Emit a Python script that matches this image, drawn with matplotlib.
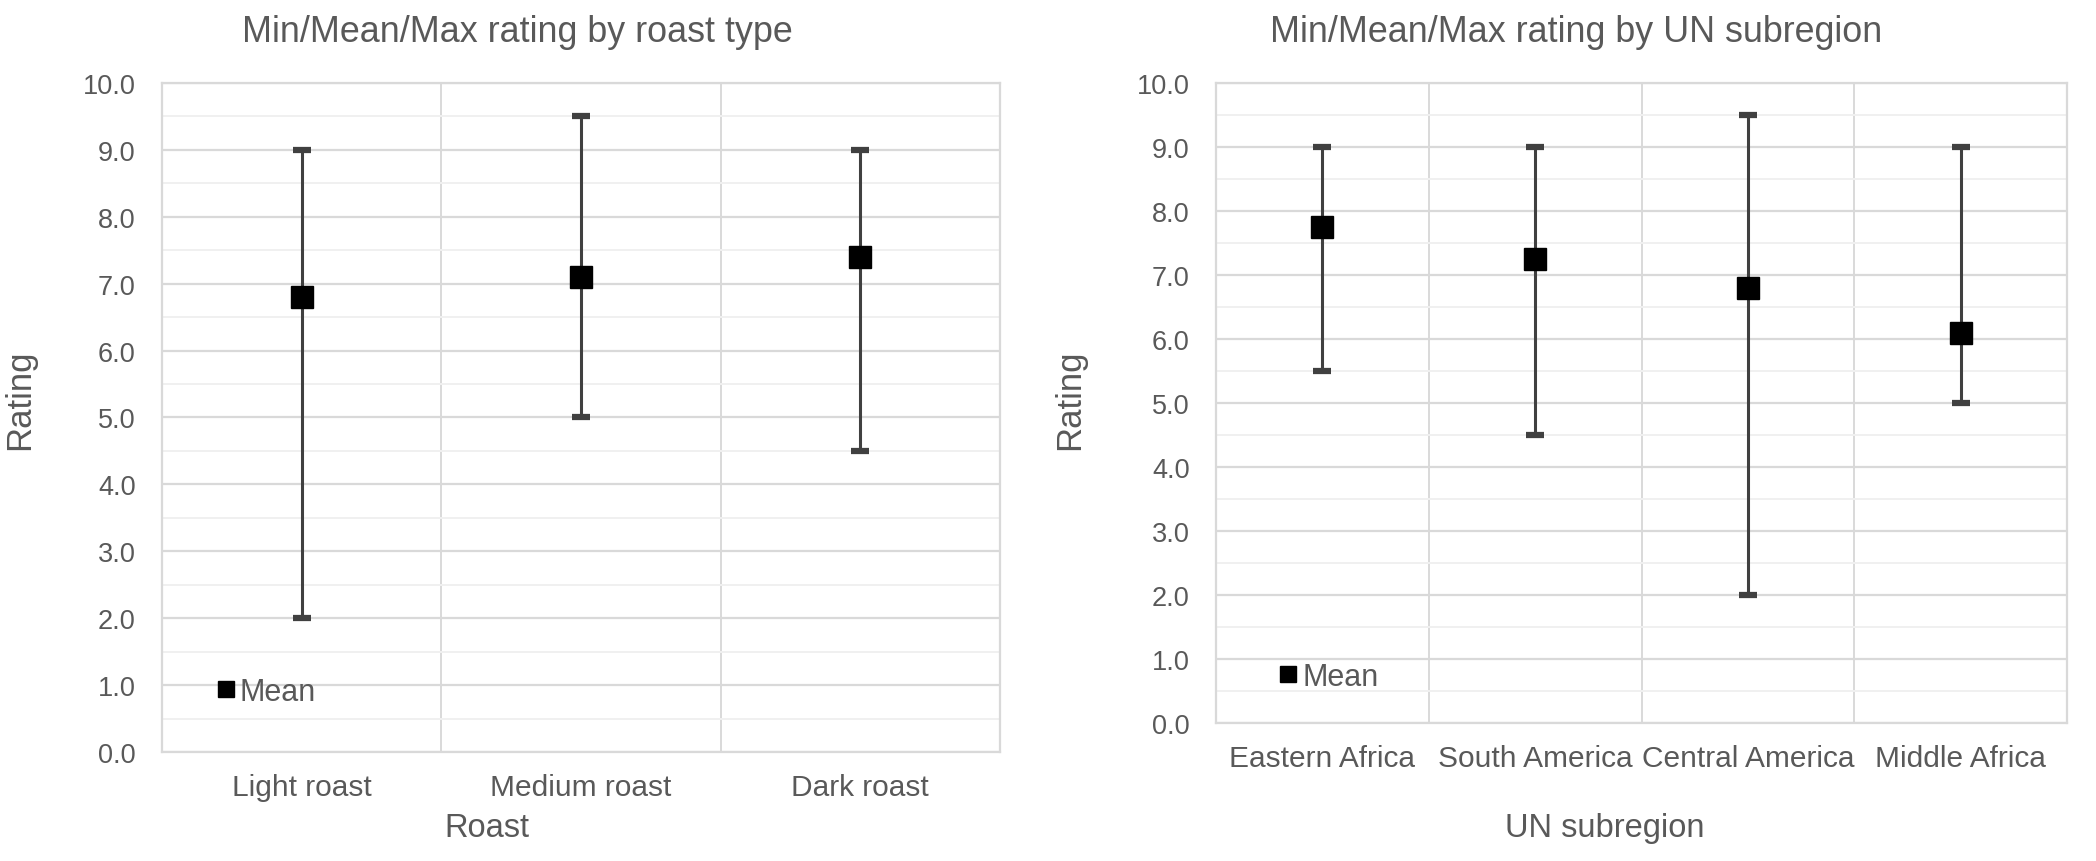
import matplotlib
matplotlib.use("Agg")
import matplotlib.pyplot as plt
from matplotlib.ticker import MultipleLocator, FixedLocator

plt.rcParams["font.family"] = ["Liberation Sans", "DejaVu Sans"]

# data
roast_types = ["Light roast", "Medium roast", "Dark roast"]
roast_min = [2.0, 5.0, 4.5]
roast_mean = [6.8, 7.1, 7.4]
roast_max = [9.0, 9.5, 9.0]

regions = ["Eastern Africa", "South America", "Central America", "Middle Africa"]
region_min = [5.5, 4.5, 2.0, 5.0]
region_mean = [7.75, 7.25, 6.8, 6.1]
region_max = [9.0, 9.0, 9.5, 9.0]

TEXT = "#595959"
GRID = "#d9d9d9"
MINOR = "#f0f0f0"


def draw_panel(ax, cats, lo, mid, hi, legend_xy):
    n = len(cats)
    x = list(range(n))
    err_lo = [m - l for m, l in zip(mid, lo)]
    err_hi = [h - m for m, h in zip(mid, hi)]
    _, caps, bars = ax.errorbar(x, mid, yerr=[err_lo, err_hi], fmt="none",
                                ecolor="#404040", elinewidth=2.2, capsize=6.5,
                                capthick=4.5, zorder=3)
    for c in caps:
        c.set_color("black")
    ax.plot(x, mid, linestyle="none", marker="s", markersize=16,
            color="black", label="Mean", zorder=4)

    ax.set_xlim(-0.5, n - 0.5)
    ax.set_ylim(0, 10)
    ax.set_xticks(x)
    ax.set_xticklabels(cats)
    ax.xaxis.set_minor_locator(FixedLocator([i - 0.5 for i in range(n + 1)]))
    ax.yaxis.set_major_locator(MultipleLocator(1))
    ax.yaxis.set_minor_locator(MultipleLocator(0.5))
    ax.yaxis.set_major_formatter(matplotlib.ticker.FormatStrFormatter("%.1f"))

    ax.grid(which="major", axis="y", color=GRID, linewidth=1.6, zorder=0)
    ax.grid(which="minor", axis="y", color=MINOR, linewidth=1.4, zorder=0)
    ax.grid(which="minor", axis="x", color=GRID, linewidth=1.4, zorder=0)
    ax.set_axisbelow(True)
    for s in ax.spines.values():
        s.set_color(GRID)
        s.set_linewidth(1.6)

    ax.tick_params(which="both", length=0)
    ax.tick_params(axis="y", labelsize=19.5, labelcolor=TEXT, pad=19)
    ax.tick_params(axis="x", labelsize=21.5, labelcolor=TEXT, pad=15)

    leg = ax.legend(loc="center left", bbox_to_anchor=legend_xy, frameon=False,
                    fontsize=22, handlelength=0.55, handletextpad=0.18,
                    borderpad=0, borderaxespad=0, markerscale=0.75)
    for t in leg.get_texts():
        t.set_color(TEXT)


fig = plt.figure(figsize=(20.96, 8.62), dpi=100)
ax1 = fig.add_axes([0.0773, 0.1265, 0.3998, 0.7761])
ax2 = fig.add_axes([0.5802, 0.1601, 0.4060, 0.7425])

draw_panel(ax1, roast_types, roast_min, roast_mean, roast_max, (0.066, 0.09))
draw_panel(ax2, regions, region_min, region_mean, region_max, (0.075, 0.072))

fig.text(0.2467, 0.962, "Min/Mean/Max rating by roast type", ha="center",
         va="center", fontsize=25.8, color=TEXT)
fig.text(0.7519, 0.962, "Min/Mean/Max rating by UN subregion", ha="center",
         va="center", fontsize=25.8, color=TEXT)
fig.text(0.2323, 0.0383, "Roast", ha="center", va="center", fontsize=23.5,
         color=TEXT)
fig.text(0.7658, 0.0383, "UN subregion", ha="center", va="center",
         fontsize=23.5, color=TEXT)
fig.text(0.0095, 0.536, "Rating", ha="center", va="center", rotation=90,
         fontsize=25, color=TEXT)
fig.text(0.5105, 0.536, "Rating", ha="center", va="center", rotation=90,
         fontsize=25, color=TEXT)

fig.savefig("out.png", dpi=100, facecolor="white")
